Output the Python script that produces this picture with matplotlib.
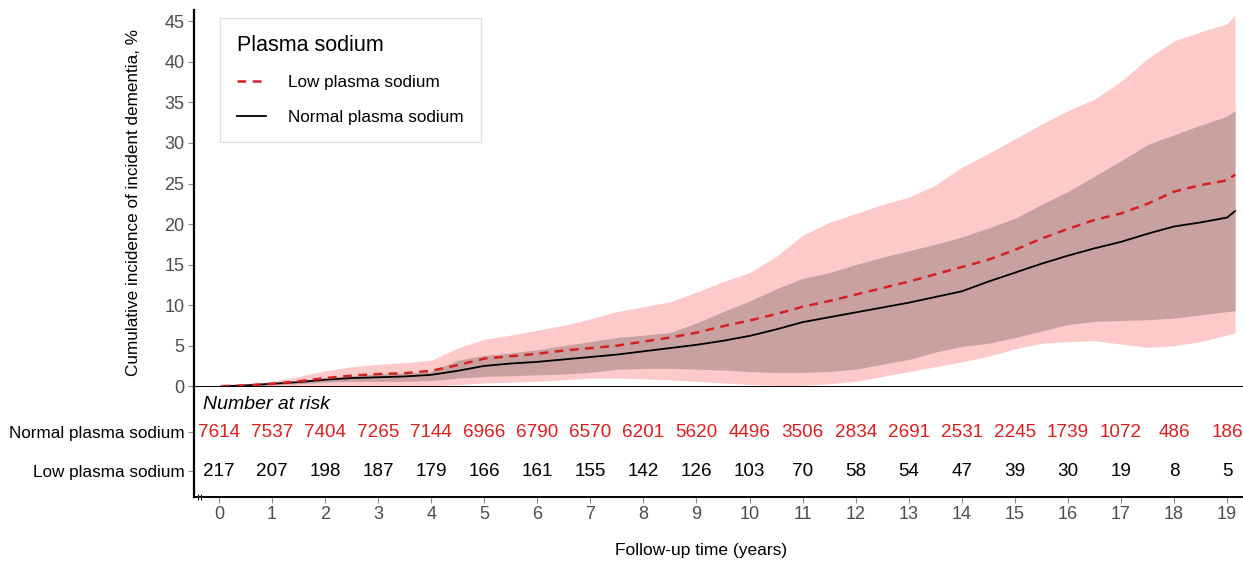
import matplotlib
matplotlib.use('Agg')
import matplotlib.pyplot as plt
from matplotlib.lines import Line2D

plt.rcParams['font.family'] = ['Liberation Sans', 'DejaVu Sans']

# ---------------- data ----------------
time_years = [0.05, 0.5, 1, 1.5, 2, 2.5, 3, 3.5, 4, 4.5, 5, 5.5, 6, 6.5, 7, 7.5,
              8, 8.5, 9, 9.5, 10, 10.5, 11, 11.5, 12, 12.5, 13, 13.5, 14, 14.5,
              15, 15.5, 16, 16.5, 17, 17.5, 18, 18.5, 19, 19.15]

normal_cum = [0.0, 0.1, 0.3, 0.5, 0.8, 1.0, 1.1, 1.2, 1.4, 1.9, 2.5, 2.8, 3.0, 3.3,
              3.6, 3.9, 4.3, 4.7, 5.1, 5.6, 6.2, 7.0, 7.9, 8.5, 9.1, 9.7, 10.3,
              11.0, 11.7, 12.9, 14.0, 15.1, 16.1, 17.0, 17.8, 18.8, 19.7, 20.2,
              20.8, 21.6]

low_cum = [0.0, 0.1, 0.3, 0.6, 1.0, 1.3, 1.5, 1.6, 1.9, 2.6, 3.4, 3.7, 4.0, 4.4,
           4.7, 5.0, 5.5, 6.0, 6.6, 7.4, 8.1, 8.9, 9.8, 10.5, 11.3, 12.1, 12.9,
           13.8, 14.7, 15.6, 16.8, 18.2, 19.4, 20.5, 21.3, 22.5, 24.0, 24.8,
           25.4, 26.1]

low_ci_upper = [0.0, 0.2, 0.6, 1.2, 1.9, 2.4, 2.7, 2.9, 3.2, 4.7, 5.8, 6.3, 6.9,
                7.5, 8.3, 9.2, 9.8, 10.4, 11.6, 12.9, 14.0, 16.0, 18.6, 20.2,
                21.3, 22.4, 23.3, 24.8, 27.0, 28.7, 30.5, 32.3, 34.0, 35.4,
                37.6, 40.4, 42.6, 43.7, 44.7, 45.8]

low_ci_lower = [0.0, 0.0, 0.0, 0.0, 0.0, 0.0, 0.0, 0.0, 0.0, 0.2, 0.4, 0.5, 0.6,
                0.8, 1.0, 1.0, 0.9, 0.8, 0.6, 0.4, 0.2, 0.1, 0.1, 0.3, 0.6, 1.2,
                1.8, 2.4, 3.0, 3.7, 4.6, 5.3, 5.5, 5.6, 5.2, 4.8, 5.0, 5.5, 6.3,
                6.6]

normal_ci_upper = [0.0, 0.1, 0.4, 0.7, 1.0, 1.3, 1.5, 1.6, 1.8, 3.2, 3.8, 4.1,
                   4.5, 5.0, 5.5, 6.0, 6.3, 6.6, 7.8, 9.2, 10.5, 12.0, 13.3,
                   14.0, 15.0, 15.9, 16.7, 17.5, 18.4, 19.5, 20.7, 22.4, 24.0,
                   25.9, 27.8, 29.8, 31.0, 32.2, 33.3, 34.0]

normal_ci_lower = [0.0, 0.05, 0.15, 0.3, 0.5, 0.6, 0.6, 0.6, 0.7, 1.0, 1.2, 1.3,
                   1.4, 1.5, 1.7, 2.1, 2.2, 2.2, 2.1, 2.0, 1.8, 1.7, 1.7, 1.8,
                   2.1, 2.7, 3.3, 4.2, 4.9, 5.3, 6.0, 6.8, 7.6, 8.0, 8.1, 8.2,
                   8.4, 8.8, 9.2, 9.3]

risk_times = list(range(20))
normal_at_risk = [7614, 7537, 7404, 7265, 7144, 6966, 6790, 6570, 6201, 5620,
                  4496, 3506, 2834, 2691, 2531, 2245, 1739, 1072, 486, 186]
low_at_risk = [217, 207, 198, 187, 179, 166, 161, 155, 142, 126, 103, 70, 58,
               54, 47, 39, 30, 19, 8, 5]

y_ticks = [0, 5, 10, 15, 20, 25, 30, 35, 40, 45]
row_labels = ['Normal plasma sodium', 'Low plasma sodium']

# ---------------- styling ----------------
W, H = 1243, 561
RED_LINE = '#D42222'
RED_TEXT = '#E01E1E'
PINK = '#FDC9C9'
DARK = '#C9A1A1'
GRAY = '#4D4D4D'
TICKC = '#8C8C8C'
XMIN, XMAX = -0.47, 19.30

fig = plt.figure(figsize=(W / 100, H / 100), dpi=100)

# main panel
ax = fig.add_axes([194 / W, 1 - 387 / H, (W - 194) / W, (387 - 10) / H])
ax.fill_between(time_years, low_ci_lower, low_ci_upper, color=PINK, lw=0)
ax.fill_between(time_years, normal_ci_lower, normal_ci_upper, color=DARK, lw=0)
ax.plot(time_years, normal_cum, color='black', lw=1.3)
ax.plot(time_years, low_cum, color=RED_LINE, lw=1.8, ls=(0, (3.5, 2.6)))
ax.set_xlim(XMIN, XMAX)
ax.set_ylim(-0.1, 46.4)
ax.set_yticks(y_ticks)
ax.set_yticklabels([str(v) for v in y_ticks])
ax.tick_params(axis='y', colors=TICKC, labelcolor=GRAY, labelsize=13,
               length=4, width=0.8, pad=3)
ax.tick_params(axis='x', bottom=False, labelbottom=False)
for s in ['top', 'right']:
    ax.spines[s].set_visible(False)
ax.spines['left'].set_linewidth(1.6)
ax.spines['bottom'].set_linewidth(1.4)

handles = [Line2D([], [], color=RED_LINE, lw=1.8, ls=(0, (3.5, 2.6))),
           Line2D([], [], color='black', lw=1.3)]
leg = ax.legend(handles, ['Low plasma sodium', 'Normal plasma sodium'],
                title='Plasma sodium', loc='upper left',
                bbox_to_anchor=(0.0248, 0.979), borderaxespad=0,
                frameon=True, fancybox=False, edgecolor='#D9D9D9',
                fontsize=12.3, title_fontsize=15.5, handlelength=1.7,
                handletextpad=1.3, labelspacing=1.13, borderpad=1.0)
leg._legend_box.align = 'left'
leg._legend_box.sep = 14
leg.get_frame().set_linewidth(1.0)

fig.text(133 / W, 1 - 202 / H, 'Cumulative incidence of incident dementia, %',
         rotation=90, ha='center', va='center', fontsize=12.3, color='black')

# risk table panel
ax_r = fig.add_axes([194 / W, 1 - 497 / H, (W - 194) / W, (497 - 387) / H])
ax_r.set_xlim(XMIN, XMAX)
ax_r.set_ylim(0, 1)
row_y = [0.59, 0.236]
for t, n in zip(risk_times, normal_at_risk):
    ax_r.text(t, row_y[0], str(n), ha='center', va='center',
              color=RED_TEXT, fontsize=13.6)
for t, n in zip(risk_times, low_at_risk):
    ax_r.text(t, row_y[1], str(n), ha='center', va='center',
              color='black', fontsize=13.6)
ax_r.text(0.0086, 0.845, 'Number at risk', transform=ax_r.transAxes,
          ha='left', va='center', fontsize=14, style='italic')
ax_r.set_yticks(row_y)
ax_r.set_yticklabels(row_labels)
ax_r.tick_params(axis='y', colors=TICKC, labelcolor='black', labelsize=12.3,
                 length=4, width=0.8, pad=3)
ax_r.set_xticks(risk_times)
ax_r.set_xticklabels([str(t) for t in risk_times])
ax_r.tick_params(axis='x', colors=TICKC, labelcolor=GRAY, labelsize=13,
                 length=4, width=0.8, pad=2.5)
ax_r.set_xticks([-0.40, -0.33], minor=True)
ax_r.tick_params(axis='x', which='minor', colors='black', length=5,
                 width=0.8, direction='inout')
for s in ['top', 'right']:
    ax_r.spines[s].set_visible(False)
ax_r.spines['left'].set_linewidth(1.6)
ax_r.spines['bottom'].set_linewidth(1.4)

fig.text(701 / W, 1 - 550 / H, 'Follow-up time (years)', ha='center',
         va='center', fontsize=12.5, color='black')

fig.savefig('out.png', dpi=100, facecolor='white')
